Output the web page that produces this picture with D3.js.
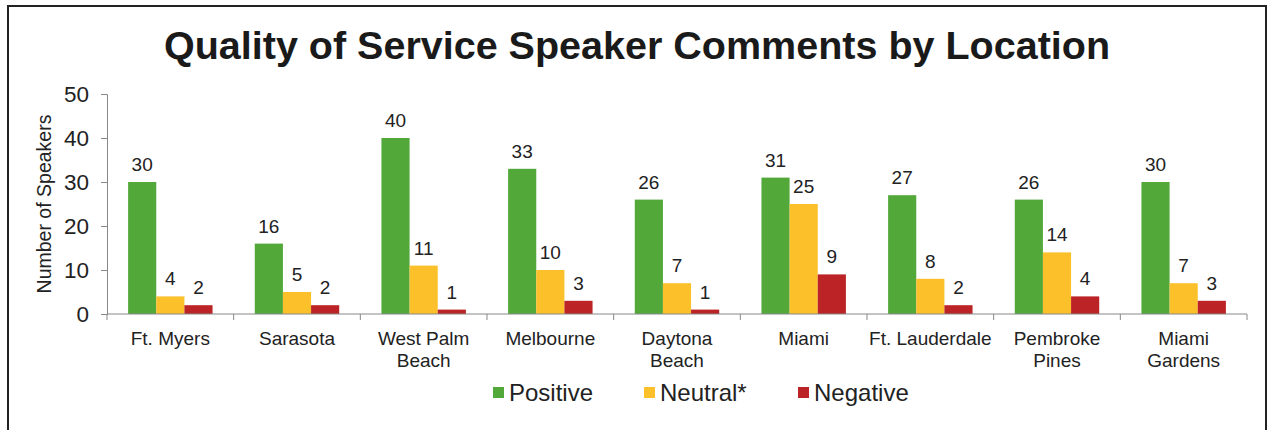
<!DOCTYPE html>
<html>
<head>
<meta charset="utf-8">
<script src="https://cdn.jsdelivr.net/npm/d3@7"></script>
<style>
  body { margin: 0; background: #fff; }
  svg { display: block; font-family: "Liberation Sans", Arial, sans-serif; }
</style>
</head>
<body>
<script>
var width = 1270,
  height = 430;

// data
const locations = [
  ["Ft. Myers"], ["Sarasota"], ["West Palm", "Beach"], ["Melbourne"],
  ["Daytona", "Beach"], ["Miami"], ["Ft. Lauderdale"], ["Pembroke", "Pines"],
  ["Miami", "Gardens"]
];
const seriesNames = ["Positive", "Neutral*", "Negative"];
const positive = [30, 16, 40, 33, 26, 31, 27, 26, 30];
const neutral = [4, 5, 11, 10, 7, 25, 8, 14, 7];
const negative = [2, 2, 1, 3, 1, 9, 2, 4, 3];
const yTicks = [0, 10, 20, 30, 40, 50];
const colors = ["#53a83a", "#fcc02a", "#bb2326"];

const series = [positive, neutral, negative];

const svg = d3
  .select("body")
  .append("svg")
  .attr("width", width)
  .attr("height", height);

// frame
svg.append("rect")
  .attr("x", 8).attr("y", 6)
  .attr("width", 1258).attr("height", 460)
  .attr("fill", "none")
  .attr("stroke", "#222")
  .attr("stroke-width", 2);

svg.append("text")
  .attr("x", 637).attr("y", 59)
  .attr("text-anchor", "middle")
  .attr("font-size", 39.5)
  .attr("font-weight", "bold")
  .attr("fill", "#1a1a1a")
  .text("Quality of Service Speaker Comments by Location");

const plotLeft = 107, plotRight = 1247, plotTop = 94, plotBottom = 314;

const x = d3.scaleBand()
  .domain(d3.range(locations.length))
  .range([plotLeft, plotRight])
  .paddingInner(0)
  .paddingOuter(0);

const xs = d3.scaleBand()
  .domain(d3.range(series.length))
  .range([0, x.bandwidth()])
  .paddingOuter(0.75)
  .paddingInner(0);

const y = d3.scaleLinear().domain([0, 50]).range([plotBottom, plotTop]);

// y axis
const yAxis = svg.append("g")
  .attr("transform", `translate(${plotLeft},0)`)
  .call(d3.axisLeft(y).tickValues(yTicks).tickSize(6).tickPadding(12));
yAxis.select(".domain").attr("stroke", "#888");
yAxis.selectAll(".tick line").attr("stroke", "#888");
yAxis.selectAll(".tick text")
  .attr("font-size", 22.5)
  .attr("fill", "#222");

svg.append("text")
  .attr("transform", `translate(51,${(plotTop + plotBottom) / 2}) rotate(-90)`)
  .attr("text-anchor", "middle")
  .attr("font-size", 19.5)
  .attr("fill", "#222")
  .text("Number of Speakers");

// bars
const groups = svg.append("g").selectAll("g")
  .data(locations)
  .join("g")
  .attr("transform", (d, i) => `translate(${x(i)},0)`);

groups.selectAll("rect")
  .data((d, i) => series.map((s, k) => ({ k: k, v: s[i] })))
  .join("rect")
  .attr("x", d => xs(d.k))
  .attr("y", d => y(d.v))
  .attr("width", xs.bandwidth())
  .attr("height", d => y(0) - y(d.v))
  .attr("fill", d => colors[d.k]);

groups.selectAll("text.val")
  .data((d, i) => series.map((s, k) => ({ k: k, v: s[i] })))
  .join("text")
  .attr("class", "val")
  .attr("x", d => xs(d.k) + xs.bandwidth() / 2)
  .attr("y", d => y(d.v) - 11)
  .attr("text-anchor", "middle")
  .attr("font-size", 19)
  .attr("fill", "#222")
  .text(d => d.v);

// x axis line with boundary ticks
svg.append("line")
  .attr("x1", plotLeft).attr("x2", plotRight)
  .attr("y1", plotBottom).attr("y2", plotBottom)
  .attr("stroke", "#888");
svg.append("g").selectAll("line")
  .data(d3.range(locations.length + 1))
  .join("line")
  .attr("x1", i => plotLeft + i * x.step())
  .attr("x2", i => plotLeft + i * x.step())
  .attr("y1", plotBottom)
  .attr("y2", plotBottom + 6)
  .attr("stroke", "#888");

// category labels
groups.append("text")
  .attr("x", x.bandwidth() / 2)
  .attr("y", 345)
  .attr("text-anchor", "middle")
  .attr("font-size", 19)
  .attr("fill", "#222")
  .selectAll("tspan")
  .data(d => d)
  .join("tspan")
  .attr("x", x.bandwidth() / 2)
  .attr("dy", (d, i) => (i === 0 ? 0 : 22))
  .text(d => d);

// legend
const legendX = [493, 644, 798];
const legend = svg.append("g").selectAll("g")
  .data(seriesNames)
  .join("g")
  .attr("transform", (d, i) => `translate(${legendX[i]},393)`);
legend.append("rect")
  .attr("x", 0).attr("y", -6)
  .attr("width", 11).attr("height", 11)
  .attr("fill", (d, i) => colors[i]);
legend.append("text")
  .attr("x", 16).attr("y", 8)
  .attr("font-size", 24)
  .attr("fill", "#222")
  .text(d => d);
</script>
</body>
</html>
